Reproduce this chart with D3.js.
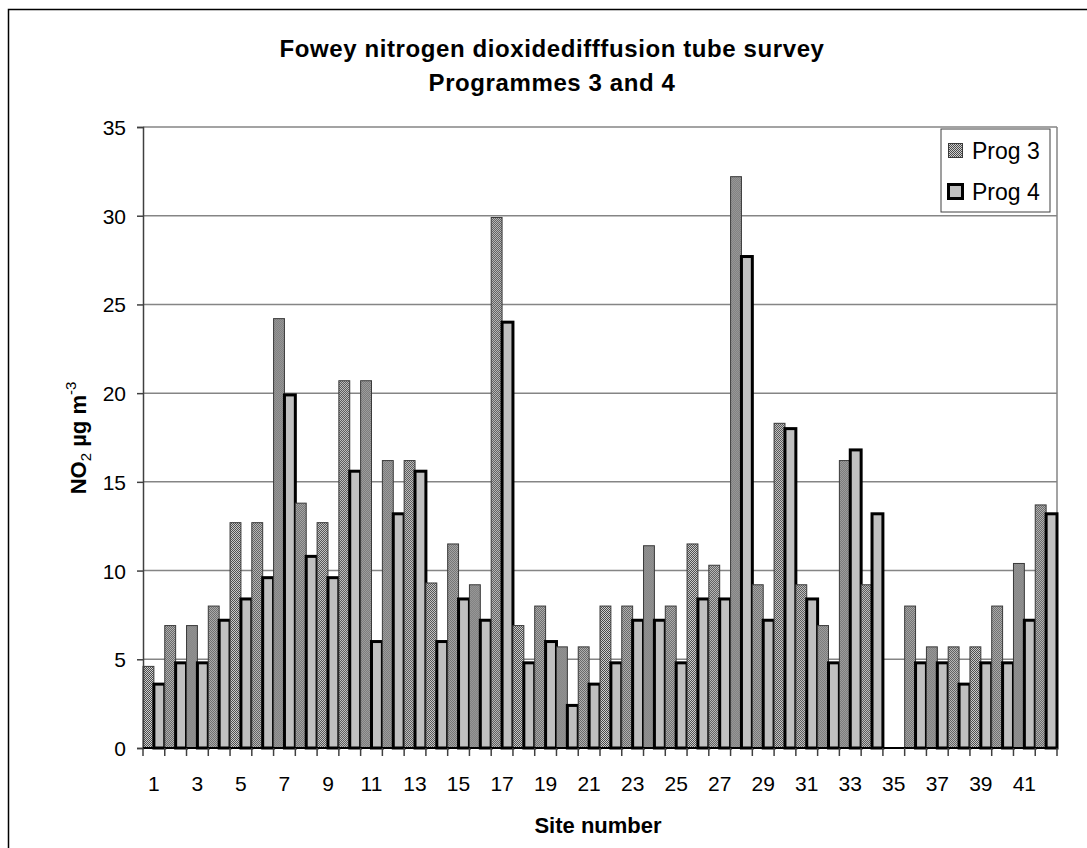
<!doctype html>
<html lang="en">
<head>
    <meta charset="UTF-8">
    <title>fowey-no2</title>
    <style>
        body { margin: 0; background: #fff; }
        text { font-family: "Liberation Sans", Arial, sans-serif; fill: #000; }
        .grid line { stroke: #858585; stroke-width: 1.5px; }
        .tick-label { font-size: 21px; }
        .axis-title { font-size: 22px; font-weight: bold; }
        .title { font-size: 24px; font-weight: bold; letter-spacing: 0.6px; }
        .legend-label { font-size: 23px; }
    </style>
</head>
<body>

<svg width="1087" height="848"></svg>

<script src="https://d3js.org/d3.v7.min.js"></script>
<script>
  const sites = [1, 2, 3, 4, 5, 6, 7, 8, 9, 10, 11, 12, 13, 14, 15, 16, 17, 18, 19, 20, 21,
    22, 23, 24, 25, 26, 27, 28, 29, 30, 31, 32, 33, 34, 35, 36, 37, 38, 39, 40, 41, 42]

  const prog3 = [4.6, 6.9, 6.9, 8.0, 12.7, 12.7, 24.2, 13.8, 12.7, 20.7, 20.7, 16.2, 16.2, 9.3,
    11.5, 9.2, 29.9, 6.9, 8.0, 5.7, 5.7, 8.0, 8.0, 11.4, 8.0, 11.5, 10.3, 32.2, 9.2, 18.3,
    9.2, 6.9, 16.2, 9.2, null, 8.0, 5.7, 5.7, 5.7, 8.0, 10.4, 13.7]

  const prog4 = [3.6, 4.8, 4.8, 7.2, 8.4, 9.6, 19.9, 10.8, 9.6, 15.6, 6.0, 13.2, 15.6, 6.0,
    8.4, 7.2, 24.0, 4.8, 6.0, 2.4, 3.6, 4.8, 7.2, 7.2, 4.8, 8.4, 8.4, 27.7, 7.2, 18.0,
    8.4, 4.8, 16.8, 13.2, null, 4.8, 4.8, 3.6, 4.8, 4.8, 7.2, 13.2]

  const seriesNames = ['Prog 3', 'Prog 4']
  const yTicks = [0, 5, 10, 15, 20, 25, 30, 35]
  const xTickLabels = [1, 3, 5, 7, 9, 11, 13, 15, 17, 19, 21, 23, 25, 27, 29, 31, 33, 35, 37, 39, 41]

  const svg = d3.select('svg')

  // plot area
  const plotL = 143, plotR = 1057, plotT = 127, plotB = 748

  const x = d3.scaleBand().domain(sites).range([plotL, plotR]).padding(0)
  const xs = d3.scaleBand().domain(seriesNames).range([0, x.bandwidth()]).padding(0)
  const y = d3.scaleLinear().domain([0, 35]).range([plotB, plotT])

  // dotted fill for Prog 3
  const defs = svg.append('defs')
  const pat = defs.append('pattern')
    .attr('id', 'dots')
    .attr('patternUnits', 'userSpaceOnUse')
    .attr('width', 2)
    .attr('height', 2)
  pat.append('rect').attr('width', 2).attr('height', 2).attr('fill', '#cfcfcf')
  pat.append('rect').attr('x', 0).attr('y', 0).attr('width', 1).attr('height', 1).attr('fill', '#4a4a4a')
  pat.append('rect').attr('x', 1).attr('y', 1).attr('width', 1).attr('height', 1).attr('fill', '#4a4a4a')

  // chart border (runs off the right and bottom edges)
  svg.append('rect')
    .attr('x', 8.5).attr('y', 9.5)
    .attr('width', 1200).attr('height', 1000)
    .attr('fill', 'none').attr('stroke', '#000').attr('stroke-width', 1.5)

  // title
  svg.append('text').attr('class', 'title')
    .attr('x', 552).attr('y', 57).attr('text-anchor', 'middle')
    .text('Fowey nitrogen dioxidedifffusion tube survey')
  svg.append('text').attr('class', 'title')
    .attr('x', 552).attr('y', 91).attr('text-anchor', 'middle')
    .text('Programmes 3 and 4')

  // gridlines
  svg.append('g').attr('class', 'grid')
    .selectAll('line')
    .data(yTicks.filter(d => d > 0))
    .enter()
    .append('line')
    .attr('x1', plotL).attr('x2', plotR)
    .attr('y1', d => y(d)).attr('y2', d => y(d))

  // plot area right border
  svg.append('line')
    .attr('x1', plotR).attr('x2', plotR).attr('y1', plotT).attr('y2', plotB)
    .attr('stroke', '#858585').attr('stroke-width', 1.5)

  // bars
  const rows = sites.map((s, i) => ({ site: s, values: [prog3[i], prog4[i]] }))

  const groups = svg.append('g').attr('class', 'bars')
    .selectAll('g')
    .data(rows)
    .enter()
    .append('g')
    .attr('transform', d => `translate(${x(d.site)},0)`)

  groups.filter(d => d.values[0] != null)
    .append('rect')
    .attr('x', xs('Prog 3'))
    .attr('width', xs.bandwidth())
    .attr('y', d => y(d.values[0]))
    .attr('height', d => plotB - y(d.values[0]))
    .attr('fill', 'url(#dots)')
    .attr('stroke', '#3a3a3a')
    .attr('stroke-width', 1)

  groups.filter(d => d.values[1] != null)
    .append('rect')
    .attr('x', xs('Prog 4'))
    .attr('width', xs.bandwidth())
    .attr('y', d => y(d.values[1]))
    .attr('height', d => plotB - y(d.values[1]))
    .attr('fill', '#c0c0c0')
    .attr('stroke', '#000')
    .attr('stroke-width', 3)

  // y axis
  const yAxis = svg.append('g')
    .attr('transform', `translate(${plotL},0)`)
    .call(d3.axisLeft(y).tickValues(yTicks).tickSize(6).tickPadding(11))
  yAxis.select('.domain').attr('stroke', '#404040').attr('stroke-width', 1.5)
  yAxis.selectAll('.tick line').attr('stroke', '#404040').attr('stroke-width', 1.5)
  yAxis.attr('font-size', null).attr('font-family', null)
  yAxis.selectAll('.tick text').attr('class', 'tick-label').attr('dy', '0.36em')

  // x axis: ticks between categories, labels on odd sites
  const xAxis = svg.append('g')
  xAxis.append('line')
    .attr('x1', plotL).attr('x2', plotR).attr('y1', plotB).attr('y2', plotB)
    .attr('stroke', '#000').attr('stroke-width', 2)
  xAxis.selectAll('line.xtick')
    .data(sites.concat([null]))
    .enter()
    .append('line')
    .attr('class', 'xtick')
    .attr('x1', (d, i) => i < sites.length ? x(d) : plotR)
    .attr('x2', (d, i) => i < sites.length ? x(d) : plotR)
    .attr('y1', plotB).attr('y2', plotB + 8)
    .attr('stroke', '#404040').attr('stroke-width', 1.5)
  xAxis.selectAll('text')
    .data(xTickLabels)
    .enter()
    .append('text')
    .attr('class', 'tick-label')
    .attr('x', d => x(d) + x.bandwidth() / 2)
    .attr('y', 791)
    .attr('text-anchor', 'middle')
    .text(d => d)

  // axis titles
  svg.append('text').attr('class', 'axis-title')
    .attr('x', 598).attr('y', 833).attr('text-anchor', 'middle')
    .text('Site number')

  const yt = svg.append('text').attr('class', 'axis-title')
    .attr('transform', 'translate(86,438) rotate(-90)')
    .attr('text-anchor', 'middle')
  yt.append('tspan').text('NO')
  yt.append('tspan').attr('font-size', '15px').attr('font-weight', 'normal').attr('dy', 5).text('2')
  yt.append('tspan').attr('dy', -5).text(' µg m')
  yt.append('tspan').attr('font-size', '15px').attr('font-weight', 'normal').attr('dy', -10).text('-3')

  // legend
  const legend = svg.append('g').attr('transform', 'translate(941,129)')
  legend.append('rect')
    .attr('width', 109).attr('height', 83)
    .attr('fill', '#fff').attr('stroke', '#404040').attr('stroke-width', 1)
  const items = legend.selectAll('g.item')
    .data(seriesNames)
    .enter()
    .append('g')
    .attr('transform', (d, i) => `translate(0,${i * 41})`)
  items.append('rect')
    .attr('x', 7.5).attr('y', 14.5).attr('width', 14).attr('height', 14)
    .attr('fill', (d, i) => i === 0 ? 'url(#dots)' : '#c0c0c0')
    .attr('stroke', (d, i) => i === 0 ? '#3a3a3a' : '#000')
    .attr('stroke-width', (d, i) => i === 0 ? 1 : 3)
  items.append('text').attr('class', 'legend-label')
    .attr('x', 31).attr('y', 30)
    .text(d => d)
</script>
</body>
</html>
